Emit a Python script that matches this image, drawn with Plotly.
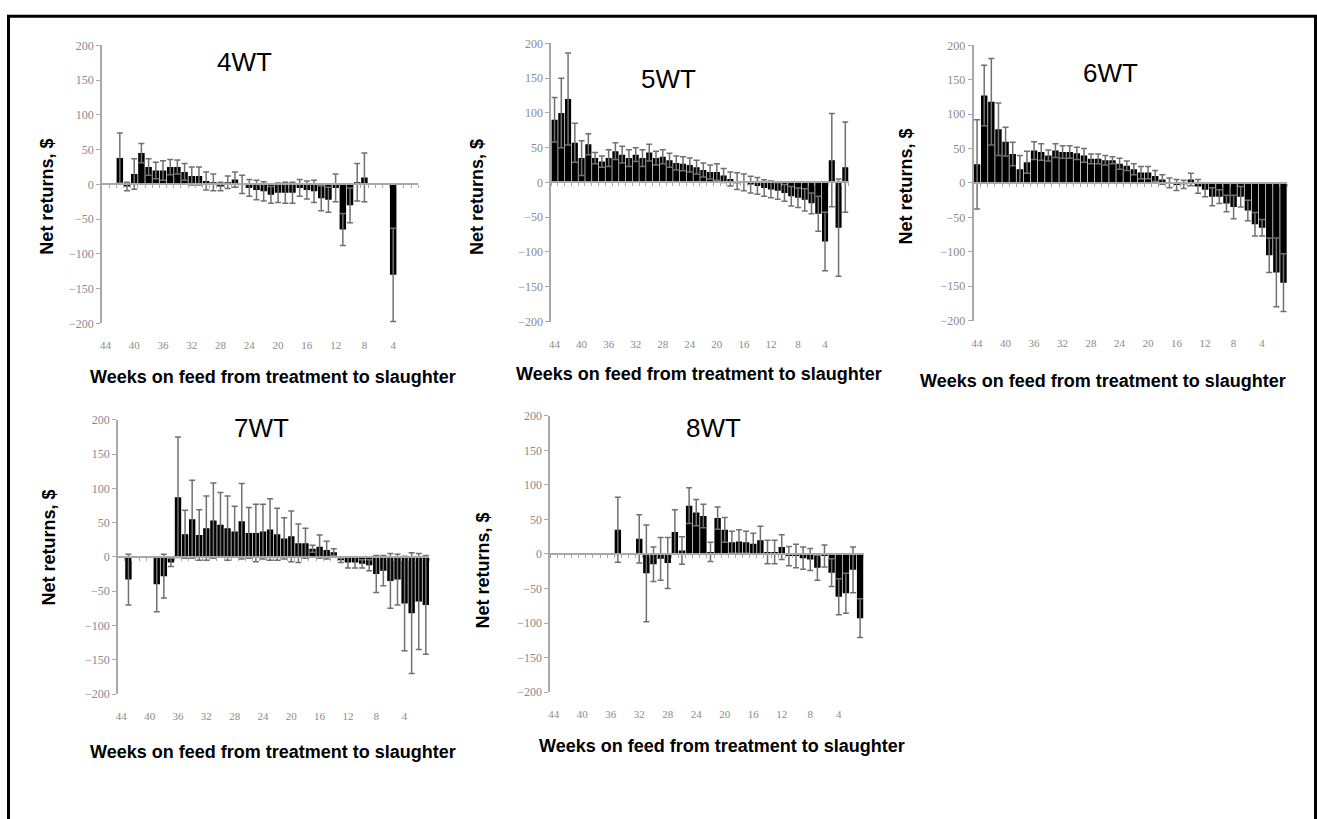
import plotly.graph_objects as go

W, H = 1317, 819

# ---------------- data ----------------
WEEKS = list(range(44, 0, -1))                      # weeks on feed, 44 -> 1
TICK_WEEKS = [44, 40, 36, 32, 28, 24, 20, 16, 12, 8, 4]
Y_TICKS = [-200, -150, -100, -50, 0, 50, 100, 150, 200]
PANEL_NAMES = ["4WT", "5WT", "6WT", "7WT", "8WT"]

NR_4WT = [None, None, 38, -3, 15, 45, 25, 20, 20, 25, 25, 18, 12, 12, 5, 3, -3, 3, 7, 0,
          -5, -8, -10, -15, -12, -12, -12, -5, -8, -10, -20, -22, -5, -65, -30, 3, 10,
          None, None, None, -130, None, None, None]
SE_4WT = [None, None, 36, 6, 22, 14, 12, 12, 14, 11, 10, 12, 13, 13, 13, 12, 6, 9, 11, 13,
          12, 14, 14, 12, 14, 15, 15, 12, 13, 16, 18, 18, 20, 23, 25, 27, 35,
          None, None, None, 67, None, None, None]

NR_5WT = [90, 100, 120, 57, 35, 55, 35, 30, 35, 45, 40, 35, 40, 35, 43, 35, 37, 32, 28, 27,
          25, 22, 18, 15, 15, 10, 5, 2, 0, -3, -5, -8, -10, -12, -15, -20, -22, -25, -30,
          -45, -85, 32, -65, 22]
SE_5WT = [32, 50, 66, 28, 25, 15, 8, 8, 12, 12, 12, 12, 10, 12, 12, 10, 10, 10, 10, 10,
          10, 10, 10, 10, 12, 10, 10, 12, 12, 12, 12, 12, 12, 12, 12, 14, 14, 16, 15,
          25, 42, 67, 70, 65]

NR_6WT = [27, 127, 118, 78, 60, 42, 20, 30, 47, 45, 40, 47, 45, 45, 43, 40, 35, 35, 33, 33,
          28, 25, 20, 15, 15, 10, 5, 0, -3, -2, 5, -5, -10, -20, -20, -30, -35, -20, -40,
          -60, -65, -105, -130, -145]
SE_6WT = [65, 44, 63, 38, 21, 17, 20, 16, 13, 12, 8, 10, 9, 9, 9, 10, 7, 7, 7, 5,
          8, 7, 8, 9, 9, 8, 7, 7, 8, 6, 9, 10, 10, 13, 10, 12, 17, 15, 15,
          17, 12, 25, 50, 42]

NR_7WT = [None, -33, None, None, None, -40, -28, -8, 87, 33, 55, 32, 42, 53, 47, 42, 37, 52,
          35, 35, 37, 40, 33, 27, 30, 20, 20, 12, 15, 10, 7, -5, -8, -8, -10, -12, -25, -20,
          -35, -33, -68, -82, -65, -70]
SE_7WT = [None, 37, None, None, None, 40, 32, 6, 88, 35, 57, 37, 47, 55, 47, 47, 37, 55,
          37, 42, 40, 45, 38, 30, 37, 28, 22, 5, 17, 13, 5, 3, 8, 8, 6, 8, 27, 22,
          40, 37, 69, 88, 70, 72]

NR_8WT = [None, None, None, None, None, None, None, None, None, 35, None, None, 22, -28, -15,
          -7, -13, 32, 5, 70, 60, 55, 3, 52, 35, 17, 18, 17, 15, 20, 3, 3, 10, -3, -3, -6,
          -8, -20, -3, -27, -62, -57, -23, -93]
SE_8WT = [None, None, None, None, None, None, None, None, None, 47, None, None, 35, 70, 25,
          31, 37, 32, 20, 26, 19, 17, 14, 16, 18, 16, 17, 16, 15, 20, 17, 17, 18, 14, 17, 16,
          16, 18, 16, 20, 26, 29, 33, 28]

VALUES = [NR_4WT, NR_5WT, NR_6WT, NR_7WT, NR_8WT]
ERRORS = [SE_4WT, SE_5WT, SE_6WT, SE_7WT, SE_8WT]

# ---------------- layout geometry (pixels) ----------------
# (x_left, x_right, y_top, y_bottom) of each plot area
GEOM = [
    (100, 417, 39, 322),
    (550, 848, 37, 320),
    (973, 1287, 39, 319),
    (116, 428, 420, 699),
    (549, 863, 416, 697),
]
TITLE_POS = [(243, 56), (668, 73), (1110, 67), (260, 428), (713, 428)]
XTITLE_POS = [(271, 376), (698, 373), (1103, 380), (271, 758), (721, 752)]
YTITLE_POS = [(45, 193), (475, 193), (905, 183), (47, 550), (482, 573)]

SANS = "Liberation Sans, Arial, sans-serif"
SERIF = "Liberation Serif, Times New Roman, serif"
AXIS_GRAY = "#a8a8a8"
TICK_GRAY = "#8a8a8a"


def px_x(x):
    return x / W


def px_y(y):
    return 1 - y / H


fig = go.Figure()
layout = dict(
    width=W, height=H,
    margin=dict(l=0, r=0, t=0, b=0),
    paper_bgcolor="white", plot_bgcolor="white",
    bargap=0.1, showlegend=False,
    annotations=[], shapes=[],
)

n_panels = len(PANEL_NAMES)
for i in range(n_panels):
    xl, xr, yt, yb = GEOM[i]
    xn = i + 1
    on = i + 1 + n_panels
    xkey = "xaxis" if xn == 1 else f"xaxis{xn}"
    ykey = "yaxis" if xn == 1 else f"yaxis{xn}"
    okey = f"xaxis{on}"
    xref = "x" if xn == 1 else f"x{xn}"
    yref = "y" if xn == 1 else f"y{xn}"

    fig.add_trace(go.Bar(
        x=WEEKS, y=VALUES[i],
        marker=dict(color="black", line=dict(width=0)),
        error_y=dict(type="data", array=ERRORS[i], visible=True,
                     color="#707070", thickness=1.5, width=3),
        xaxis=xref, yaxis=yref, hoverinfo="x+y",
    ))
    # invisible trace to carry the zero-line axis with category ticks
    fig.add_trace(go.Scatter(
        x=WEEKS, y=[0] * len(WEEKS), mode="markers",
        marker=dict(opacity=0), xaxis=f"x{on}", yaxis=yref, hoverinfo="skip",
    ))

    d0, d1 = px_y(yb), px_y(yt)
    layout[xkey] = dict(
        domain=[px_x(xl), px_x(xr)], anchor=yref,
        range=[44.5, 0.5], tickmode="array", tickvals=TICK_WEEKS,
        ticktext=[str(t) for t in TICK_WEEKS],
        showline=False, ticks="", showgrid=False, zeroline=False,
        tickfont=dict(family=SERIF, size=11, color=TICK_GRAY),
        ticklabelstandoff=14,
    )
    layout[okey] = dict(
        overlaying=xref, anchor="free", position=(d0 + d1) / 2,
        range=[44.5, 0.5], tickmode="array",
        tickvals=[w + 0.5 for w in WEEKS] + [0.5],
        ticks="outside", ticklen=3, tickcolor=AXIS_GRAY, tickwidth=1,
        showline=True, linecolor=AXIS_GRAY, linewidth=2,
        showticklabels=False, showgrid=False, zeroline=False,
    )
    layout[ykey] = dict(
        domain=[d0, d1], anchor=xref,
        range=[-200, 200], tickmode="array", tickvals=Y_TICKS,
        showline=True, linecolor=AXIS_GRAY, linewidth=1.5,
        ticks="outside", ticklen=4, tickcolor=AXIS_GRAY,
        showgrid=False, zeroline=False,
        tickfont=dict(family=SERIF, size=12, color=TICK_GRAY),
    )

    tx, ty = TITLE_POS[i]
    layout["annotations"].append(dict(
        text=PANEL_NAMES[i], x=px_x(tx), y=px_y(ty), xref="paper", yref="paper",
        showarrow=False, xanchor="center", yanchor="middle",
        font=dict(family=SANS, size=26, color="black"),
    ))
    ax_, ay_ = XTITLE_POS[i]
    layout["annotations"].append(dict(
        text="<b>Weeks on feed from treatment to slaughter</b>",
        x=px_x(ax_), y=px_y(ay_), xref="paper", yref="paper",
        showarrow=False, xanchor="center", yanchor="middle",
        font=dict(family=SANS, size=18, color="black"),
    ))
    bx, by = YTITLE_POS[i]
    layout["annotations"].append(dict(
        text="<b>Net returns, $</b>", textangle=-90,
        x=px_x(bx), y=px_y(by), xref="paper", yref="paper",
        showarrow=False, xanchor="center", yanchor="middle",
        font=dict(family=SANS, size=18, color="black"),
    ))

# outer frame
layout["shapes"].append(dict(
    type="rect", xref="paper", yref="paper",
    x0=px_x(6.5), x1=px_x(1315.5), y0=px_y(830), y1=px_y(9.5),
    line=dict(color="black", width=3), fillcolor="rgba(0,0,0,0)",
))

fig.update_layout(**layout)
fig.write_html(
    "out.html",
    config={"displayModeBar": False},
    post_script="document.body.style.margin='0px';document.body.style.overflow='hidden';",
)
